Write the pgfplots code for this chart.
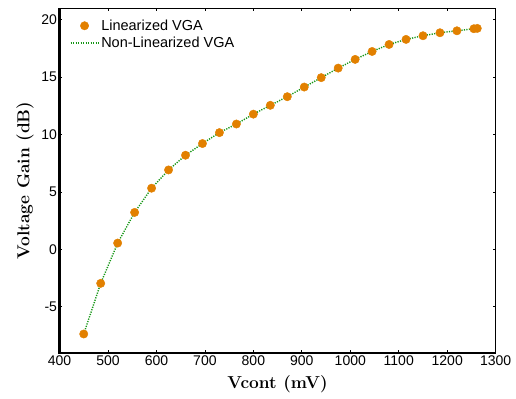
\documentclass[border=0pt]{standalone}
\usepackage{fontspec}
\setmainfont{Liberation Sans}
\newfontfamily\lmfont{Latin Modern Roman}
\usepackage{pgfplots}
\pgfplotsset{compat=1.18}
\definecolor{morange}{RGB}{226,128,0}
\definecolor{mgreen}{RGB}{20,150,20}
\begin{document}
\begin{tikzpicture}
\begin{axis}[
  at={(59.5bp,46.3bp)}, anchor=south west,
  scale only axis, width=436.2bp, height=344.4bp,
  xmin=400, xmax=1300, ymin=-9, ymax=21,
  xtick={400,500,...,1300}, ytick={-5,0,5,10,15,20},
  tick align=inside, tick pos=both,
  major tick length=3bp,
  every tick/.style={black, line width=0.8bp},
  axis line style={line width=1.2bp},
  /pgf/number format/assume math mode=true,
  /pgf/number format/1000 sep={},
  tick label style={font=\fontsize{14bp}{16bp}\selectfont},
  yticklabel style={xshift=1bp},
  xlabel={\lmfont\bfseries Vcont (mV)},
  ylabel={\lmfont\bfseries Voltage Gain (dB)},
  xlabel style={font=\fontsize{17.3bp}{19bp}\selectfont, at={(axis description cs:0.5,-0.0915)}, anchor=center},
  ylabel style={font=\fontsize{17.3bp}{19bp}\selectfont, at={(axis description cs:-0.0791,0.5)}, anchor=center, rotate=0},
  y label style={sloped like y axis={}},
  legend style={at={(axis description cs:0.021,0.976)}, anchor=north west, draw=none, fill=white,
    font=\fontsize{14.5bp}{16.5bp}\selectfont, inner sep=1bp, row sep=1.2bp,
    nodes={inner sep=2bp}},
  legend cell align=left,
  after end axis/.code={\draw[line width=2bp] (rel axis cs:0,1) -- (rel axis cs:0,0) -- (rel axis cs:1,0);},
]
\addplot[only marks, mark=*, mark size=4.2bp, morange, mark options={draw=morange, fill=morange},
  legend image code/.code={\fill[morange] (14bp,0) circle (4.2bp);}]
coordinates {
(450,-7.37) (485,-2.96) (520,0.55) (555,3.22) (590,5.33) (625,6.92) (660,8.20)
(695,9.22) (730,10.17) (765,10.92) (800,11.78) (835,12.55) (870,13.30) (905,14.14)
(940,14.96) (975,15.79) (1010,16.55) (1045,17.24) (1080,17.85) (1115,18.29)
(1150,18.61) (1185,18.87) (1220,19.04) (1255,19.22) (1262,19.25)
};
\addlegendentry{Linearized VGA}
\addplot[mgreen, line width=1.4bp, dash pattern=on 1.2bp off 1.3bp, no marks,
  legend image code/.code={\draw[mgreen, line width=1.4bp, dash pattern=on 1.2bp off 1.3bp] (0,0) -- (28bp,0);}]
coordinates {
(450,-7.37) (485,-2.96) (520,0.55) (555,3.22) (590,5.33) (625,6.92) (660,8.20)
(695,9.22) (730,10.17) (765,10.92) (800,11.78) (835,12.55) (870,13.30) (905,14.14)
(940,14.96) (975,15.79) (1010,16.55) (1045,17.24) (1080,17.85) (1115,18.29)
(1150,18.61) (1185,18.87) (1220,19.04) (1255,19.22)
};
\addlegendentry{Non-Linearized VGA}
\end{axis}
\pgfresetboundingbox
\path (0,0) rectangle (516bp,399bp);
\end{tikzpicture}
\end{document}
